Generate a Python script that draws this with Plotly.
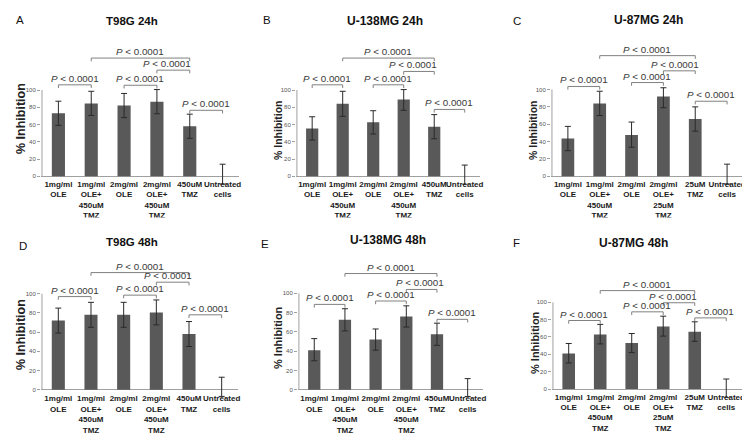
import plotly.graph_objects as go

W, H = 750, 433

# ---------------- data ----------------
cats_450 = ["1mg/ml<br>OLE", "1mg/ml<br>OLE+<br>450uM<br>TMZ", "2mg/ml<br>OLE",
            "2mg/ml<br>OLE+<br>450uM<br>TMZ", "450uM<br>TMZ", "Untreated<br>cells"]
cats_25 = ["1mg/ml<br>OLE", "1mg/ml<br>OLE+<br>450uM<br>TMZ", "2mg/ml<br>OLE",
           "2mg/ml<br>OLE+<br>25uM<br>TMZ", "25uM<br>TMZ", "Untreated<br>cells"]

titles = ["T98G 24h", "U-138MG 24h", "U-87MG 24h", "T98G 48h", "U-138MG 48h", "U-87MG 48h"]
letters = ["A", "B", "C", "D", "E", "F"]

t98g_24h = [73, 84.5, 82, 86.5, 58, 0]
t98g_24h_err = [14, 14, 14, 14, 14, 14]
t98g_24h_errm = [14, 14, 14, 14, 14, 9]

u138_24h = [55.5, 84, 62.5, 89, 57.5, 0]
u138_24h_err = [13.5, 14.5, 13.5, 11.5, 14, 13]
u138_24h_errm = [13.5, 14.5, 13.5, 12.5, 14, 10]

u87_24h = [43.5, 84, 47.5, 92, 66, 0]
u87_24h_err = [14, 14, 15, 10, 14, 14]
u87_24h_errm = [14, 14, 14, 13, 14, 9]

t98g_48h = [72, 78, 78, 80.5, 58, 0]
t98g_48h_err = [13, 13, 13, 13, 13, 13]
t98g_48h_errm = [13, 13, 13, 13, 13, 7]

u138_48h = [41, 72.5, 52, 76, 57.5, 0]
u138_48h_err = [12, 11.5, 11, 11, 11.5, 11.5]
u138_48h_errm = [11, 11.5, 11, 11, 11.5, 7]

u87_48h = [41, 63, 53, 72, 66, 0]
u87_48h_err = [11.5, 11.5, 11, 12, 11.5, 11.5]
u87_48h_errm = [11, 11, 11, 11, 11, 10]

p_label = "<i>P</i> < 0.0001"

# brackets: (from category, to category, height in % units, text x offset)
brackets = [
    [(0, 1, 106, 0), (2, 3, 105.5, 0), (3, 4, 123, -0.2), (1, 4, 137, 0), (4, 5, 76.5, 0)],
    [(0, 1, 106, 0), (2, 3, 106, 0), (3, 4, 121.5, -0.2), (1, 4, 137, 0), (4, 5, 77.5, 0)],
    [(0, 1, 103.5, 0), (2, 3, 108, 0), (3, 4, 121.5, -0.15), (1, 4, 139, 0), (4, 5, 86.5, 0)],
    [(0, 1, 97, 0), (2, 3, 98.5, 0), (3, 4, 112, -0.15), (1, 4, 122, 0), (4, 5, 78, 0)],
    [(0, 1, 88.5, 0), (2, 3, 92, 0), (3, 4, 104, -0.05), (1, 4, 120.5, 0), (4, 5, 73, 0)],
    [(0, 1, 79, 0), (2, 3, 89, 0), (3, 4, 99.5, -0.2), (1, 4, 113.5, 0), (4, 5, 82, 0)],
]

panels = [
    (cats_450, t98g_24h, t98g_24h_err, t98g_24h_errm),
    (cats_450, u138_24h, u138_24h_err, u138_24h_errm),
    (cats_25, u87_24h, u87_24h_err, u87_24h_errm),
    (cats_450, t98g_48h, t98g_48h_err, t98g_48h_errm),
    (cats_450, u138_48h, u138_48h_err, u138_48h_errm),
    (cats_25, u87_48h, u87_48h_err, u87_48h_errm),
]

# ---------------- layout geometry (pixels) ----------------
# x_left, x_right, y of value 0, y of value 100
geom = [
    (33, 231, 168.3, 82.0),
    (288, 472, 168.3, 82.0),
    (543, 735, 168.3, 81.5),
    (33, 230, 381.7, 285.7),
    (290, 475, 381.7, 285.3),
    (544, 734, 381.0, 294.3),
]
title_pos = [(124, 13), (377, 13), (640, 12), (124, 234), (380, 232), (625, 235)]
title_size = [11.5, 12, 12, 11.5, 12, 12]
letter_pos = [(12, 12), (259, 12), (509, 13), (15, 238), (257, 236), (508, 235)]
ytitle_pos = [(13, 111), (270, 122), (525, 122), (13, 327), (270, 330), (527, 335)]
ytitle_size = [12.5, 10.5, 10.5, 12.5, 11, 11]

YMIN, YMAX = -10, 145
XMIN, XMAX = -0.53, 5.5

FONT = "Liberation Sans"
BAR = "#595959"
ERR = "#2a2a2a"
BRK = "#808080"
AXC = "#a0a0a0"

fig = go.Figure()
layout = dict(
    width=W, height=H, margin=dict(l=0, r=0, t=0, b=0),
    paper_bgcolor="white", plot_bgcolor="white", showlegend=False,
    bargap=0.6, font=dict(family=FONT, color="#222"),
)
shapes = []
annotations = []

for k, ((cats, vals, err, errm), (x0, x1, y0, y100)) in enumerate(zip(panels, geom)):
    n = k + 1
    xa = "x" if n == 1 else f"x{n}"
    ya = "y" if n == 1 else f"y{n}"
    ppu = (y0 - y100) / 100.0
    ybot = y0 - YMIN * ppu
    ytop = y0 - YMAX * ppu

    fig.add_trace(go.Bar(
        x=cats, y=vals, xaxis=xa, yaxis=ya,
        marker=dict(color=BAR, line=dict(width=0)),
        error_y=dict(type="data", array=err, arrayminus=errm, symmetric=False,
                     color=ERR, thickness=1, width=3),
        hoverinfo="skip",
    ))

    layout[f"xaxis{'' if n == 1 else n}"] = dict(
        domain=[x0 / W, x1 / W], range=[XMIN, XMAX], anchor=ya,
        showline=False, showgrid=False, zeroline=False, ticks="",
        tickfont=dict(size=8, family=FONT, color="#1a1a1a", weight="bold"),
        tickangle=0, automargin=False, fixedrange=True, ticklabelstandoff=-7,
    )
    layout[f"yaxis{'' if n == 1 else n}"] = dict(
        domain=[1 - ybot / H, 1 - ytop / H], range=[YMIN, YMAX], anchor=xa,
        tickvals=[0, 20, 40, 60, 80, 100], ticks="outside", ticklen=3,
        tickcolor=AXC, tickfont=dict(size=6, family=FONT, color="#555"),
        showline=False, showgrid=False, zeroline=True, zerolinecolor=AXC,
        zerolinewidth=1, automargin=False, fixedrange=True,
    )

    # y axis line from 0 to 100
    shapes.append(dict(type="line", xref=xa, yref=ya, x0=-0.5, x1=-0.5, y0=0, y1=100,
                       line=dict(color=AXC, width=1)))

    # significance brackets
    d = 3.2 / ppu
    for (i, j, yb, dx) in brackets[k]:
        shapes.append(dict(type="path", xref=xa, yref=ya,
                           path=f"M {i},{yb - d} L {i},{yb} L {j},{yb} L {j},{yb - d}",
                           line=dict(color=BRK, width=1)))
        annotations.append(dict(xref=xa, yref=ya, x=(i + j) / 2 + dx, y=yb,
                                yanchor="bottom", xanchor="center", showarrow=False,
                                text=p_label, yshift=-1,
                                font=dict(size=9.8, family=FONT, color="#3a3a3a")))

    tx, ty = title_pos[k]
    annotations.append(dict(xref="paper", yref="paper", x=tx / W, y=1 - ty / H,
                            xanchor="center", yanchor="middle", showarrow=False,
                            text=f"<b>{titles[k]}</b>",
                            font=dict(size=title_size[k], family=FONT, color="#111")))
    lx, ly = letter_pos[k]
    annotations.append(dict(xref="paper", yref="paper", x=lx / W, y=1 - ly / H,
                            xanchor="center", yanchor="middle", showarrow=False,
                            text=letters[k], font=dict(size=11.5, family=FONT, color="#111")))
    yx, yy = ytitle_pos[k]
    annotations.append(dict(xref="paper", yref="paper", x=yx / W, y=1 - yy / H,
                            xanchor="center", yanchor="middle", showarrow=False,
                            textangle=-90, text="<b>% Inhibition</b>",
                            font=dict(size=ytitle_size[k], family=FONT, color="#222")))

# the top row of the source figure is cropped just below the third label line
shapes.append(dict(type="rect", xref="paper", yref="paper", x0=0, x1=1,
                   y0=1 - 224 / H, y1=1 - 209.5 / H, fillcolor="white",
                   line=dict(width=0), layer="above"))

layout["shapes"] = shapes
layout["annotations"] = annotations
fig.update_layout(**layout)
fig.write_html("out.html")
